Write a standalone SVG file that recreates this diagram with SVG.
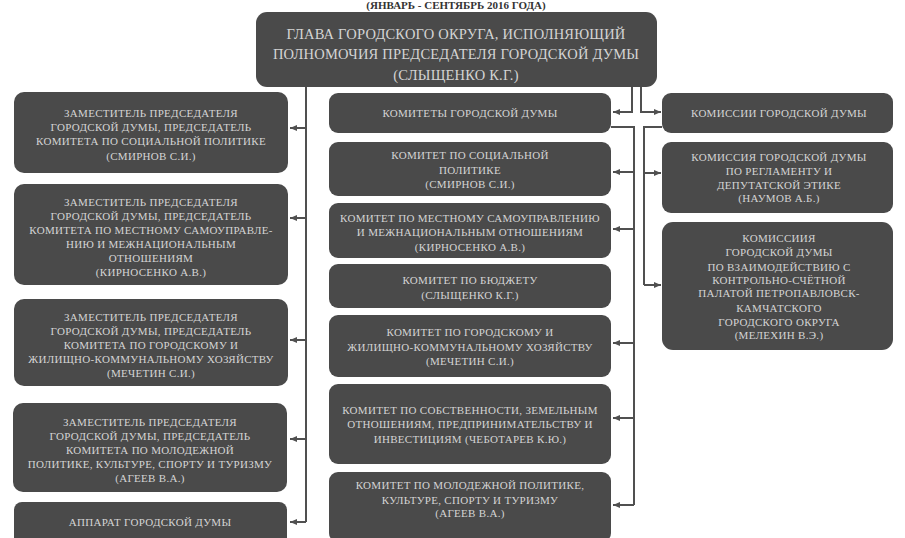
<svg xmlns="http://www.w3.org/2000/svg" width="905" height="538" viewBox="0 0 905 538">
<defs>
<style>
.box{fill:#4a4a4a}
.t{font-family:"Liberation Serif","DejaVu Serif",serif;font-size:11px;fill:#d4d4d4;text-anchor:middle;letter-spacing:0.3px}
.h{font-family:"Liberation Serif","DejaVu Serif",serif;font-size:14.5px;fill:#d4d4d4;text-anchor:middle;letter-spacing:0.2px}
.ttl{font-family:"Liberation Serif","DejaVu Serif",serif;font-size:11px;font-weight:bold;fill:#333;text-anchor:middle}
.c{fill:none;stroke:#505050;stroke-width:2}
</style>
<marker id="ah" markerUnits="userSpaceOnUse" markerWidth="8" markerHeight="8" refX="7" refY="4" orient="auto">
<path d="M0,1 L7,4 L0,7 z" fill="#505050"/>
</marker>
</defs>
<rect width="905" height="538" fill="#ffffff"/>
<text class="ttl" x="456" y="9">(ЯНВАРЬ - СЕНТЯБРЬ 2016 ГОДА)</text>

<g id="connectors">
<path class="c" d="M306,87 V522"/>
<path class="c" d="M306,128 H290" marker-end="url(#ah)"/>
<path class="c" d="M306,218 H290" marker-end="url(#ah)"/>
<path class="c" d="M306,340 H290" marker-end="url(#ah)"/>
<path class="c" d="M306,439 H290" marker-end="url(#ah)"/>
<path class="c" d="M306,522 H290" marker-end="url(#ah)"/>
<path class="c" d="M632,87 V112 H613" marker-end="url(#ah)"/>
<path class="c" d="M611,127 H634 V505"/>
<path class="c" d="M634,172 H613" marker-end="url(#ah)"/>
<path class="c" d="M634,229 H613" marker-end="url(#ah)"/>
<path class="c" d="M634,343 H613" marker-end="url(#ah)"/>
<path class="c" d="M634,418 H613" marker-end="url(#ah)"/>
<path class="c" d="M634,505 H613" marker-end="url(#ah)"/>
<path class="c" d="M641,87 V112 H661" marker-end="url(#ah)"/>
<path class="c" d="M662,127 H644 V285"/>
<path class="c" d="M644,173 H661" marker-end="url(#ah)"/>
<path class="c" d="M644,285 H661" marker-end="url(#ah)"/>
</g>

<g id="head">
<rect class="box" x="256" y="12" width="401" height="75" rx="11"/>
<text class="h" x="456" y="39">ГЛАВА ГОРОДСКОГО ОКРУГА, ИСПОЛНЯЮЩИЙ</text>
<text class="h" x="456" y="59">ПОЛНОМОЧИЯ ПРЕДСЕДАТЕЛЯ ГОРОДСКОЙ ДУМЫ</text>
<text class="h" x="456" y="80">(СЛЫЩЕНКО К.Г.)</text>
</g>

<g id="dep1">
<rect class="box" x="14" y="92" width="274" height="81" rx="10"/>
<text class="t" x="151" y="117">ЗАМЕСТИТЕЛЬ ПРЕДСЕДАТЕЛЯ</text>
<text class="t" x="151" y="131">ГОРОДСКОЙ ДУМЫ, ПРЕДСЕДАТЕЛЬ</text>
<text class="t" x="151" y="145">КОМИТЕТА ПО СОЦИАЛЬНОЙ ПОЛИТИКЕ</text>
<text class="t" x="151" y="160">(СМИРНОВ С.И.)</text>
</g>
<g id="dep2">
<rect class="box" x="14" y="184" width="274" height="101" rx="10"/>
<text class="t" x="151" y="206">ЗАМЕСТИТЕЛЬ ПРЕДСЕДАТЕЛЯ</text>
<text class="t" x="151" y="220">ГОРОДСКОЙ ДУМЫ, ПРЕДСЕДАТЕЛЬ</text>
<text class="t" x="151" y="234">КОМИТЕТА ПО МЕСТНОМУ САМОУПРАВЛЕ-</text>
<text class="t" x="151" y="248">НИЮ И МЕЖНАЦИОНАЛЬНЫМ</text>
<text class="t" x="151" y="262">ОТНОШЕНИЯМ</text>
<text class="t" x="151" y="276">(КИРНОСЕНКО А.В.)</text>
</g>
<g id="dep3">
<rect class="box" x="14" y="299" width="274" height="87" rx="10"/>
<text class="t" x="151" y="321">ЗАМЕСТИТЕЛЬ ПРЕДСЕДАТЕЛЯ</text>
<text class="t" x="151" y="335">ГОРОДСКОЙ ДУМЫ, ПРЕДСЕДАТЕЛЬ</text>
<text class="t" x="151" y="349">КОМИТЕТА ПО ГОРОДСКОМУ И</text>
<text class="t" x="151" y="363">ЖИЛИЩНО-КОММУНАЛЬНОМУ ХОЗЯЙСТВУ</text>
<text class="t" x="151" y="377">(МЕЧЕТИН С.И.)</text>
</g>
<g id="dep4">
<rect class="box" x="13" y="403" width="274" height="89" rx="10"/>
<text class="t" x="150" y="426">ЗАМЕСТИТЕЛЬ ПРЕДСЕДАТЕЛЯ</text>
<text class="t" x="150" y="440">ГОРОДСКОЙ ДУМЫ, ПРЕДСЕДАТЕЛЬ</text>
<text class="t" x="150" y="454">КОМИТЕТА ПО МОЛОДЕЖНОЙ</text>
<text class="t" x="150" y="468">ПОЛИТИКЕ, КУЛЬТУРЕ, СПОРТУ И ТУРИЗМУ</text>
<text class="t" x="150" y="482">(АГЕЕВ В.А.)</text>
</g>
<g id="apparat">
<rect class="box" x="14" y="502" width="273" height="46" rx="8"/>
<text class="t" x="150" y="526">АППАРАТ ГОРОДСКОЙ ДУМЫ</text>
</g>

<g id="com0">
<rect class="box" x="329" y="93" width="282" height="40" rx="9"/>
<text class="t" x="470" y="117">КОМИТЕТЫ ГОРОДСКОЙ ДУМЫ</text>
</g>
<g id="com1">
<rect class="box" x="329" y="142" width="282" height="54" rx="9"/>
<text class="t" x="470" y="159">КОМИТЕТ ПО СОЦИАЛЬНОЙ</text>
<text class="t" x="470" y="174">ПОЛИТИКЕ</text>
<text class="t" x="470" y="188">(СМИРНОВ С.И.)</text>
</g>
<g id="com2">
<rect class="box" x="329" y="203" width="282" height="55" rx="9"/>
<text class="t" x="470" y="222">КОМИТЕТ ПО МЕСТНОМУ САМОУПРАВЛЕНИЮ</text>
<text class="t" x="470" y="236">И МЕЖНАЦИОНАЛЬНЫМ ОТНОШЕНИЯМ</text>
<text class="t" x="470" y="251">(КИРНОСЕНКО А.В.)</text>
</g>
<g id="com3">
<rect class="box" x="329" y="264" width="282" height="44" rx="9"/>
<text class="t" x="470" y="284">КОМИТЕТ ПО БЮДЖЕТУ</text>
<text class="t" x="470" y="299">(СЛЫЩЕНКО К.Г.)</text>
</g>
<g id="com4">
<rect class="box" x="329" y="315" width="282" height="62" rx="9"/>
<text class="t" x="470" y="336">КОМИТЕТ ПО ГОРОДСКОМУ И</text>
<text class="t" x="470" y="351">ЖИЛИЩНО-КОММУНАЛЬНОМУ ХОЗЯЙСТВУ</text>
<text class="t" x="470" y="365">(МЕЧЕТИН С.И.)</text>
</g>
<g id="com5">
<rect class="box" x="329" y="384" width="282" height="80" rx="9"/>
<text class="t" x="470" y="414">КОМИТЕТ ПО СОБСТВЕННОСТИ, ЗЕМЕЛЬНЫМ</text>
<text class="t" x="470" y="428">ОТНОШЕНИЯМ, ПРЕДПРИНИМАТЕЛЬСТВУ И</text>
<text class="t" x="470" y="443">ИНВЕСТИЦИЯМ (ЧЕБОТАРЕВ К.Ю.)</text>
</g>
<g id="com6">
<rect class="box" x="329" y="472" width="282" height="70" rx="9"/>
<text class="t" x="470" y="489">КОМИТЕТ ПО МОЛОДЕЖНОЙ ПОЛИТИКЕ,</text>
<text class="t" x="470" y="504">КУЛЬТУРЕ, СПОРТУ И ТУРИЗМУ</text>
<text class="t" x="470" y="517">(АГЕЕВ В.А.)</text>
</g>

<g id="kom0">
<rect class="box" x="662" y="93" width="231" height="40" rx="9"/>
<text class="t" x="779" y="117">КОМИССИИ ГОРОДСКОЙ ДУМЫ</text>
</g>
<g id="kom1">
<rect class="box" x="662" y="142" width="231" height="71" rx="9"/>
<text class="t" x="779" y="161">КОМИССИЯ ГОРОДСКОЙ ДУМЫ</text>
<text class="t" x="779" y="175">ПО РЕГЛАМЕНТУ И</text>
<text class="t" x="779" y="189">ДЕПУТАТСКОЙ ЭТИКЕ</text>
<text class="t" x="779" y="202">(НАУМОВ А.Б.)</text>
</g>
<g id="kom2">
<rect class="box" x="662" y="222" width="231" height="128" rx="11"/>
<text class="t" x="779" y="242">КОМИССИИЯ</text>
<text class="t" x="779" y="256">ГОРОДСКОЙ ДУМЫ</text>
<text class="t" x="779" y="271">ПО ВЗАИМОДЕЙСТВИЮ С</text>
<text class="t" x="779" y="284">КОНТРОЛЬНО-СЧЁТНОЙ</text>
<text class="t" x="779" y="297">ПАЛАТОЙ ПЕТРОПАВЛОВСК-</text>
<text class="t" x="779" y="312">КАМЧАТСКОГО</text>
<text class="t" x="779" y="326">ГОРОДСКОГО ОКРУГА</text>
<text class="t" x="779" y="339">(МЕЛЕХИН В.Э.)</text>
</g>
</svg>
